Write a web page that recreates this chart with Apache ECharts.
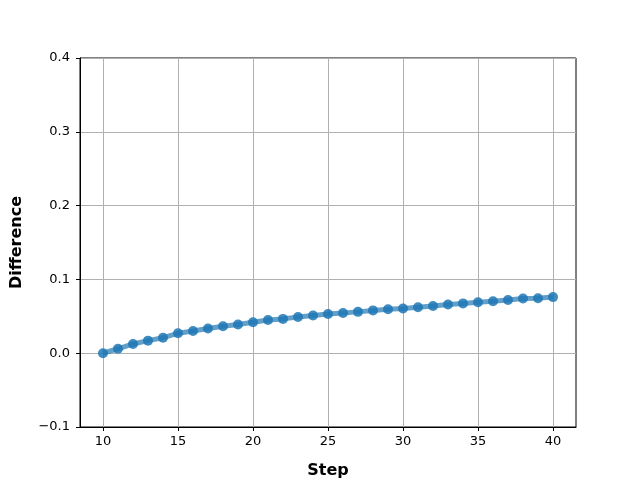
<!DOCTYPE html>
<html>
<head>
<meta charset="utf-8">
<script src="https://cdn.jsdelivr.net/npm/echarts@6/dist/echarts.min.js"></script>
<style>
  html, body { margin: 0; padding: 0; background: #fff; }
  #chart { width: 640px; height: 480px; }
</style>
</head>
<body>
<div id="chart"></div>
<script>
var steps = [10, 11, 12, 13, 14, 15, 16, 17, 18, 19, 20, 21, 22, 23, 24, 25,
  26, 27, 28, 29, 30, 31, 32, 33, 34, 35, 36, 37, 38, 39, 40];
var diffs = [0.000, 0.006, 0.0125, 0.017, 0.021, 0.027, 0.030, 0.0335, 0.0365, 0.039,
  0.042, 0.045, 0.0465, 0.049, 0.051, 0.053, 0.0545, 0.056, 0.058, 0.0595,
  0.0605, 0.0622, 0.064, 0.066, 0.0675, 0.069, 0.0705, 0.072, 0.074, 0.0745, 0.076];
var xTicks = [10, 15, 20, 25, 30, 35, 40];

var chart = echarts.init(document.getElementById('chart'));
var points = [];
for (var i = 0; i < steps.length; i++) {
  points.push([steps[i], diffs[i]]);
}

var option = {
  animation: false,
  textStyle: { fontFamily: 'DejaVu Sans' },
  grid: {
    left: 80, right: 64, top: 58, bottom: 53,
    outerBoundsMode: 'none',
    containLabel: false,
    show: true, borderColor: '#000', borderWidth: 1
  },
  xAxis: {
    type: 'value',
    min: 8.467,
    max: 41.533,
    name: 'Step',
    nameLocation: 'middle',
    nameGap: 36,
    nameTextStyle: { fontSize: 16, fontWeight: 'bold', color: '#000' },
    axisLine: { show: true, onZero: false, lineStyle: { color: '#000' } },
    axisTick: { show: true, length: 4, lineStyle: { color: '#000' }, customValues: xTicks },
    axisLabel: { color: '#000', fontSize: 13, margin: 8, customValues: xTicks },
    splitLine: { show: true, lineStyle: { color: '#b0b0b0', width: 1 } }
  },
  yAxis: {
    type: 'value',
    min: -0.1,
    max: 0.4,
    interval: 0.1,
    name: 'Difference',
    nameLocation: 'middle',
    nameGap: 55,
    nameTextStyle: { fontSize: 16, fontWeight: 'bold', color: '#000' },
    axisLine: { show: true, onZero: false, lineStyle: { color: '#000' } },
    axisTick: { show: true, length: 4, lineStyle: { color: '#000' } },
    axisLabel: {
      color: '#000', fontSize: 13, margin: 10,
      formatter: function (v) { return v.toFixed(1).replace('-', '\u2212'); }
    },
    splitLine: { show: true, lineStyle: { color: '#b0b0b0', width: 1 } }
  },
  series: [{
    type: 'line',
    data: points,
    symbol: 'circle',
    symbolSize: 10,
    showAllSymbol: true,
    lineStyle: { color: '#1f77b4', width: 5, opacity: 0.7 },
    itemStyle: { color: '#1f77b4', opacity: 0.85 }
  }]
};
chart.setOption(option);
</script>
</body>
</html>
